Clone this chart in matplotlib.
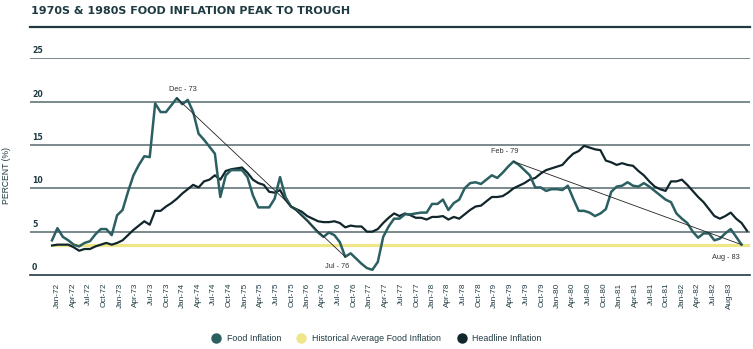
import matplotlib
matplotlib.use("Agg")
import matplotlib.pyplot as plt
import matplotlib.transforms as mtransforms
from matplotlib.lines import Line2D
import numpy as np

# ---------------- data ----------------
title = "1970S & 1980S FOOD INFLATION PEAK TO TROUGH"
y_label = "PERCENT (%)"

food_inflation = [
    4.0, 5.4, 4.4, 4.0, 3.5, 3.3, 3.7, 3.9, 4.7, 5.3, 5.3, 4.6,
    6.9, 7.5, 9.6, 11.5, 12.7, 13.7, 13.6, 19.8, 18.8, 18.8, 19.6, 20.4,
    19.7, 20.2, 18.8, 16.3, 15.6, 14.8, 14.0, 9.0, 11.5, 12.1, 12.1, 12.1,
    11.3, 9.2, 7.8, 7.8, 7.8, 8.8, 11.3, 9.0, 7.9, 7.5, 6.9, 6.3,
    5.6, 4.9, 4.4, 4.9, 4.6, 3.8, 2.1, 2.5, 1.9, 1.3, 0.8, 0.6,
    1.5, 4.4, 5.6, 6.5, 6.5, 7.0, 7.0, 7.1, 7.2, 7.2, 8.2, 8.2,
    8.7, 7.5, 8.3, 8.7, 10.0, 10.6, 10.7, 10.5, 11.0, 11.5, 11.2, 11.8,
    12.5, 13.1, 12.7, 12.1, 11.5, 10.1, 10.1, 9.7, 9.9, 9.9, 9.8, 10.3,
    8.8, 7.4, 7.4, 7.2, 6.8, 7.1, 7.6, 9.6, 10.2, 10.3, 10.7, 10.3,
    10.2, 10.6, 10.2, 9.7, 9.2, 8.7, 8.4, 7.1, 6.5, 6.0, 5.0, 4.3,
    4.8, 4.8, 4.0, 4.2, 4.8, 5.3, 4.4, 3.5,
]

headline_inflation = [
    3.4, 3.5, 3.5, 3.5, 3.2, 2.8, 3.0, 3.0, 3.3, 3.5, 3.7, 3.5,
    3.7, 4.0, 4.6, 5.2, 5.7, 6.2, 5.8, 7.4, 7.4, 7.9, 8.3, 8.8,
    9.4, 9.9, 10.4, 10.1, 10.8, 11.0, 11.5, 11.0, 12.0, 12.2, 12.3, 12.4,
    11.8, 11.0, 10.6, 10.4, 9.6, 9.5, 9.8, 8.7, 7.9, 7.6, 7.3, 6.8,
    6.5, 6.2, 6.1, 6.1, 6.2, 6.0, 5.5, 5.7, 5.6, 5.6, 5.0, 5.0,
    5.3, 6.0, 6.6, 7.1, 6.8, 7.1, 6.9, 6.6, 6.6, 6.4, 6.7, 6.7,
    6.8, 6.4, 6.7, 6.5, 7.0, 7.5, 7.9, 8.0, 8.5, 9.0, 9.0, 9.1,
    9.5, 10.0, 10.3, 10.6, 11.0, 11.2, 11.7, 12.1, 12.3, 12.5, 12.7, 13.4,
    14.0, 14.3, 14.9, 14.7, 14.5, 14.4, 13.2, 13.0, 12.7, 12.9, 12.7, 12.6,
    12.0, 11.5, 10.8, 10.2, 9.9, 9.7, 10.8, 10.8, 11.0, 10.4, 9.7, 9.0,
    8.4, 7.6, 6.8, 6.5, 6.8, 7.2, 6.5, 6.0, 5.1,
]

historical_avg_food = 3.5

tick_labels = [
    "Jan-72", "Apr-72", "Jul-72", "Oct-72", "Jan-73", "Apr-73", "Jul-73", "Oct-73",
    "Jan-74", "Apr-74", "Jul-74", "Oct-74", "Jan-75", "Apr-75", "Jul-75", "Oct-75",
    "Jan-76", "Apr-76", "Jul-76", "Oct-76", "Jan-77", "Apr-77", "Jul-77", "Oct-77",
    "Jan-78", "Apr-78", "Jul-78", "Oct-78", "Jan-79", "Apr-79", "Jul-79", "Oct-79",
    "Jan-80", "Apr-80", "Jul-80", "Oct-80", "Jan-81", "Apr-81", "Jul-81", "Oct-81",
    "Jan-82", "Apr-82", "Jul-82", "Aug-83",
]

# peak / trough labels and their month index in the food series
point_labels = ["Dec - 73", "Jul - 76", "Feb - 79", "Aug - 83"]
point_index = [23, 54, 85, 127]

legend_labels = ["Food Inflation", "Historical Average Food Inflation", "Headline Inflation"]

# ---------------- style ----------------
DARK = "#1f3b42"
FOOD = "#2b5f62"
HEAD = "#10262b"
YELLOW = "#efe68a"
GRID = "#56696e"
NARROW = ["Liberation Sans", "DejaVu Sans"]

W, H = 753, 349
fig = plt.figure(figsize=(W / 100, H / 100), dpi=100)
fig.patch.set_facecolor("white")

ax = fig.add_axes([30 / W, (H - 275) / H, 720 / W, (275 - 58.3) / H])

x_food = np.arange(len(food_inflation))
x_head = np.arange(len(headline_inflation))

ax.set_xlim(-4.05, 128.55)
ax.set_ylim(0, 25)

# grid
for v in [5, 10, 15, 20, 25]:
    ax.axhline(v, color=GRID, lw=1.1, zorder=1)
for s in ["top", "right", "left"]:
    ax.spines[s].set_visible(False)
ax.spines["bottom"].set_color(DARK)
ax.spines["bottom"].set_linewidth(1.2)

# series
ax.hlines(historical_avg_food, 0, len(headline_inflation) - 0.5, color=YELLOW, lw=2.3, zorder=2)
ax.plot(x_head, headline_inflation, color=HEAD, lw=1.6, zorder=3, solid_joinstyle="round")
ax.plot(x_food, food_inflation, color=FOOD, lw=1.8, zorder=4, solid_joinstyle="round")

# trend lines peak -> trough
for a, b in [(point_index[0], point_index[1]), (point_index[2], point_index[3])]:
    ax.plot([a, b], [food_inflation[a], food_inflation[b]], color="#222222", lw=0.6, zorder=5)

# point annotations (offsets in points)
offsets = [(4.5, 6.5), (-6, -7), (-6.5, 7), (-11.5, -9)]
for lab, idx, off in zip(point_labels, point_index, offsets):
    ax.annotate(lab, (idx, food_inflation[idx]), xytext=off, textcoords="offset points",
                ha="center", va="center", fontsize=5.3, color="#333333", family=NARROW)

# y tick labels (above gridlines)
ax.set_yticks([])
trans = mtransforms.blended_transform_factory(ax.transAxes, ax.transData)
shift = mtransforms.ScaledTranslation(0, 3 / 100, fig.dpi_scale_trans)
for v in [0, 5, 10, 15, 20, 25]:
    ax.text(2 / 720, v, str(v), transform=trans + shift, ha="left", va="bottom",
            fontsize=5.6, weight="bold", color=DARK)

# x tick labels
tick_pos = np.linspace(1.0, 124.7, len(tick_labels))
ax.set_xticks(tick_pos)
ax.set_xticklabels(tick_labels, rotation=90, fontsize=5.9, color=DARK, family=NARROW)
ax.tick_params(axis="x", length=0, pad=5.5)

# y axis label
fig.text(7 / W, 1 - 175 / H, y_label, rotation=90, ha="center", va="center",
         fontsize=6.2, color=DARK, family=NARROW)

# title + rule
fig.text(31 / W, 1 - 11 / H, title, ha="left", va="center", fontsize=8.0,
         weight="bold", color=DARK)
fig.add_artist(Line2D([30 / W, 750 / W], [1 - 26.7 / H] * 2, color=DARK, lw=1.6))

# legend
handles = [
    Line2D([], [], ls="none", marker="o", ms=6.5, color=FOOD),
    Line2D([], [], ls="none", marker="o", ms=6.5, color=YELLOW),
    Line2D([], [], ls="none", marker="o", ms=6.5, color=HEAD),
]
fig.legend(handles, legend_labels, loc="center", bbox_to_anchor=(0.5, 1 - 338.5 / H),
           ncol=3, frameon=False, handlelength=1.0, handletextpad=0.7, columnspacing=1.8,
           prop={"family": NARROW, "size": 6.4}, labelcolor=DARK)

fig.savefig("out.png", dpi=100, facecolor="white")
